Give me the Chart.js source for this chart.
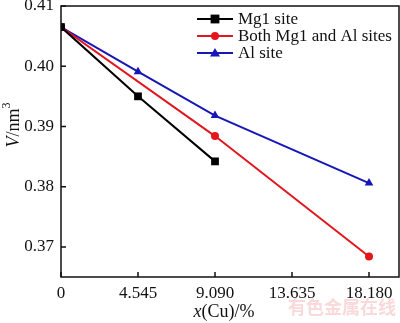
<!DOCTYPE html>
<html>
<head>
<meta charset="utf-8">
<script src="https://cdn.jsdelivr.net/npm/chart.js@4"></script>
<style>
  html, body { margin: 0; padding: 0; background: #fff; }
  #wrap { width: 400px; height: 323px; position: relative; }
</style>
</head>
<body>
<div id="wrap"><canvas id="volChart"></canvas></div>
<script>
// x(Cu) tick positions and values
const xTicks = [0, 4.545, 9.090, 13.635, 18.180];
const yTicks = [0.37, 0.38, 0.39, 0.40, 0.41];

const mg1X = [0, 4.545, 9.090];
const mg1V = [0.4065, 0.3950, 0.3842];

const bothX = [0, 9.090, 18.180];
const bothV = [0.4065, 0.3884, 0.3684];

const alX = [0, 4.545, 9.090, 18.180];
const alV = [0.4065, 0.3991, 0.3918, 0.3806];

const seriesNames = ['Mg1 site', 'Both Mg1 and Al sites', 'Al site'];

const serif = '"Liberation Serif", "Times New Roman", serif';

function pts(xs, ys) {
    return xs.map((x, i) => ({ x: x, y: ys[i] }));
}

// frame, inward ticks, axis titles, legend, watermark
const decorPlugin = {
    id: 'decor',
    afterDraw(chart) {
        const c = chart.ctx;
        const a = chart.chartArea;
        const xs = chart.scales.x, ys = chart.scales.y;
        c.save();
        c.strokeStyle = '#111';
        c.lineWidth = 1.5;
        c.strokeRect(a.left, a.top, a.right - a.left, a.bottom - a.top);
        c.beginPath();
        xTicks.forEach(v => {
            const px = xs.getPixelForValue(v);
            c.moveTo(px, a.bottom); c.lineTo(px, a.bottom - 5);
        });
        yTicks.forEach(v => {
            const py = ys.getPixelForValue(v);
            c.moveTo(a.left, py); c.lineTo(a.left + 5, py);
        });
        c.stroke();

        // y title: V/nm3
        c.fillStyle = '#111';
        c.textBaseline = 'middle';
        c.translate(14, 125);
        c.rotate(-Math.PI / 2);
        const p1 = 'italic 18px ' + serif, p2 = '18px ' + serif, p3 = '12px ' + serif;
        c.font = p1; const wV = c.measureText('V').width;
        c.font = p2; const wN = c.measureText('/nm').width;
        c.font = p3; const w3 = c.measureText('3').width;
        let sx = -(wV + wN + w3) / 2;
        c.textAlign = 'left';
        c.font = p1; c.fillText('V', sx, 0); sx += wV;
        c.font = p2; c.fillText('/nm', sx, 0); sx += wN;
        c.font = p3; c.fillText('3', sx, -7);
        c.setTransform(1, 0, 0, 1, 0, 0);

        // x title: x(Cu)/%
        c.font = p1; const wx = c.measureText('x').width;
        c.font = p2; const wr = c.measureText('(Cu)/%').width;
        let tx = 224 - (wx + wr) / 2;
        c.font = p1; c.fillText('x', tx, 312); tx += wx;
        c.font = p2; c.fillText('(Cu)/%', tx, 312);

        // legend
        const rows = [19, 36, 53];
        chart.data.datasets.forEach((ds, i) => {
            const y = rows[i];
            c.strokeStyle = ds.borderColor;
            c.lineWidth = 2;
            c.beginPath(); c.moveTo(197, y); c.lineTo(233, y); c.stroke();
            c.fillStyle = ds.borderColor;
            const r = ds.pointRadius;
            c.beginPath();
            if (ds.pointStyle === 'rect') {
                c.rect(215 - r * 0.8, y - r * 0.8, 1.6 * r, 1.6 * r);
            } else if (ds.pointStyle === 'triangle') {
                c.moveTo(215, y - r); c.lineTo(215 + r, y + r * 0.7); c.lineTo(215 - r, y + r * 0.7); c.closePath();
            } else {
                c.arc(215, y, r, 0, Math.PI * 2);
            }
            c.fill();
            c.fillStyle = '#111';
            c.font = '17px ' + serif;
            c.textAlign = 'left';
            c.fillText(ds.label, 238, y + 1);
        });

        // watermark
        c.fillStyle = 'rgba(240, 160, 160, 0.4)';
        c.font = 'bold 18px "Noto Sans CJK SC", sans-serif';
        c.textAlign = 'right';
        c.fillText('有色金属在线', 396, 307);
        c.restore();
    }
};

const ctx = document.getElementById('volChart');

const chart = new Chart(ctx, {
    type: 'line',
    data: {
        datasets: [{
            label: seriesNames[0],
            data: pts(mg1X, mg1V),
            borderColor: '#000000',
            backgroundColor: '#000000',
            pointStyle: 'rect',
            pointRadius: 5.5
        }, {
            label: seriesNames[1],
            data: pts(bothX, bothV),
            borderColor: '#e3161e',
            backgroundColor: '#e3161e',
            pointStyle: 'circle',
            pointRadius: 4
        }, {
            label: seriesNames[2],
            data: pts(alX, alV),
            borderColor: '#1717b8',
            backgroundColor: '#1717b8',
            pointStyle: 'triangle',
            pointRadius: 5
        }]
    },
    options: {
        responsive: true,
        maintainAspectRatio: false,
        animation: false,
        layout: { autoPadding: false, padding: { top: 6, right: 1, left: 0, bottom: 0 } },
        elements: {
            line: { borderWidth: 2, tension: 0 },
            point: { borderWidth: 0, hoverRadius: 4 }
        },
        scales: {
            x: {
                type: 'linear',
                min: 0,
                max: 19.95,
                afterBuildTicks: s => { s.ticks = xTicks.map(v => ({ value: v })); },
                afterFit: s => {
                    s.height = 46;
                    s.paddingLeft = 0; s.paddingRight = 0;
                },
                grid: { display: false, drawTicks: false, tickLength: 0 },
                border: { display: false },
                ticks: {
                    color: '#111',
                    font: { family: serif, size: 17 },
                    padding: 6,
                    maxRotation: 0,
                    autoSkip: false,
                    callback: v => v === 0 ? '0' : v.toFixed(3)
                }
            },
            y: {
                type: 'linear',
                min: 0.365,
                max: 0.41,
                afterBuildTicks: s => { s.ticks = yTicks.map(v => ({ value: v })); },
                afterFit: s => {
                    s.width = 61;
                    s.paddingTop = 0; s.paddingBottom = 0;
                },
                grid: { display: false, drawTicks: false, tickLength: 0 },
                border: { display: false },
                ticks: {
                    color: '#111',
                    font: { family: serif, size: 17 },
                    padding: 7,
                    autoSkip: false,
                    callback: v => v.toFixed(2)
                }
            }
        },
        plugins: {
            legend: { display: false },
            title: { display: false },
            tooltip: { enabled: false }
        }
    },
    plugins: [decorPlugin]
});
</script>
</body>
</html>
